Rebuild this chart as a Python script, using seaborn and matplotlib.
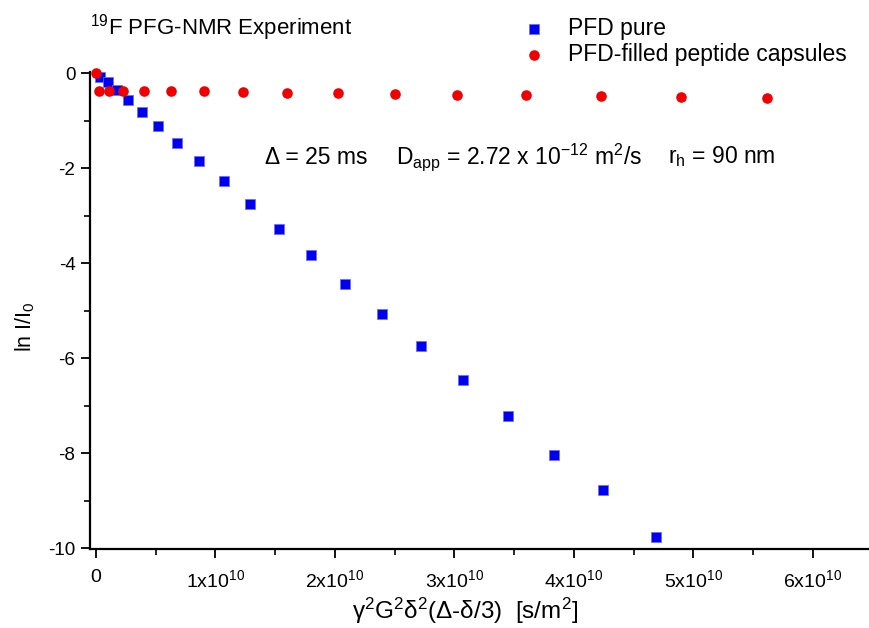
import matplotlib
matplotlib.use("Agg")
import matplotlib.pyplot as plt
import seaborn as sns
import pandas as pd
from matplotlib.ticker import MultipleLocator, FuncFormatter

# values (x in units of 1e10 s/m^2)
pure_x = [0.033, 0.098, 0.172, 0.270, 0.387, 0.523, 0.682, 0.866, 1.069, 1.289,
          1.531, 1.797, 2.086, 2.393, 2.720, 3.074, 3.445, 3.833, 4.245, 4.684]
pure_y = [-0.08, -0.19, -0.36, -0.57, -0.82, -1.12, -1.46, -1.84, -2.27, -2.75,
          -3.27, -3.83, -4.43, -5.07, -5.75, -6.46, -7.22, -8.04, -8.77, -9.76]

caps_x = [0.0, 0.028, 0.106, 0.228, 0.402, 0.630, 0.906, 1.228, 1.601, 2.025,
          2.502, 3.023, 3.598, 4.223, 4.895, 5.618]
caps_y = [0.0, -0.37, -0.37, -0.37, -0.37, -0.37, -0.385, -0.40, -0.41, -0.41,
          -0.435, -0.45, -0.46, -0.48, -0.50, -0.52]

series_names = ["PFD pure", "PFD-filled peptide capsules"]

sns.set_theme(style="ticks")
plt.rcParams['font.family'] = ['Liberation Sans', 'DejaVu Sans']
plt.rcParams['mathtext.fontset'] = 'custom'
plt.rcParams['mathtext.rm'] = 'Liberation Sans'
plt.rcParams['mathtext.it'] = 'Liberation Sans:italic'
plt.rcParams['mathtext.default'] = 'regular'
plt.rcParams['text.color'] = 'black'
plt.rcParams['axes.labelcolor'] = 'black'

df_pure = pd.DataFrame({"x": [v * 1e10 for v in pure_x], "y": pure_y})
df_caps = pd.DataFrame({"x": [v * 1e10 for v in caps_x], "y": caps_y})

fig = plt.figure(figsize=(8.69, 6.28), dpi=100)
ax = fig.add_axes([0.1036, 0.1253, 0.8964, 0.7605])

sns.scatterplot(data=df_pure, x="x", y="y", ax=ax, marker="s", s=48,
                color="#0000f0", edgecolor="#6a6aff", linewidth=0.5,
                label=series_names[0], clip_on=False, zorder=3)
sns.scatterplot(data=df_caps, x="x", y="y", ax=ax, marker="o", s=58,
                color="#f00000", edgecolor="#f00000", linewidth=0,
                label=series_names[1], clip_on=False, zorder=4)

ax.set_xlim(-0.05e10, 6.47e10)
ax.set_ylim(-10.02, 0.03)

ax.xaxis.set_major_locator(MultipleLocator(1e10))
ax.xaxis.set_minor_locator(MultipleLocator(0.5e10))
ax.yaxis.set_major_locator(MultipleLocator(2))
ax.yaxis.set_minor_locator(MultipleLocator(1))


def xfmt(v, pos):
    n = int(round(v / 1e10))
    if n == 0:
        return "0"
    return "%dx10$^{10}$" % n


ax.xaxis.set_major_formatter(FuncFormatter(xfmt))
ax.yaxis.set_major_formatter(FuncFormatter(lambda v, p: "%d" % v if v != 0 else "0"))

for side in ["top", "right"]:
    ax.spines[side].set_visible(False)
for side in ["left", "bottom"]:
    ax.spines[side].set_linewidth(1.6)
    ax.spines[side].set_color("black")

ax.tick_params(which="major", direction="out", length=6.5, width=1.3,
               labelsize=13.5, colors="black", pad=4)
ax.tick_params(which="minor", direction="out", length=4, width=1.2, colors="black")
ax.tick_params(axis="x", labelsize=14, pad=8)

ax.set_xlabel("γ$^2$G$^2$δ$^2$(Δ-δ/3)  [s/m$^2$]", fontsize=17.5, va="center")
ax.set_ylabel("ln I/I$_0$", fontsize=15.5, va="center")
ax.xaxis.set_label_coords((465 - 90) / 779, (549.3 - 611) / 477.6)
ax.yaxis.set_label_coords((25 - 90) / 779, (549.3 - 327) / 477.6)

fig.text(90 / 869, 1 - 28 / 628, "$^{19}$F PFG-NMR Experiment", fontsize=16,
         ha="left", va="center")

ann_y = 1 - 157 / 628
fig.text(265 / 869, ann_y, "Δ = 25 ms", fontsize=16.5, ha="left", va="center")
fig.text(396 / 869, ann_y, "D$_{app}$ = 2.72 x 10$^{-12}$ m$^2$/s", fontsize=16.5,
         ha="left", va="center")
fig.text(668 / 869, ann_y, "r$_h$ = 90 nm", fontsize=16.5, ha="left", va="center")

ax.legend(loc="upper left", bbox_to_anchor=(523 / 869, 1 - 17 / 628),
          bbox_transform=fig.transFigure, frameon=False, fontsize=16.5,
          borderpad=0, borderaxespad=0, handlelength=1.0, handletextpad=0.95,
          labelspacing=0.12, markerscale=1.0)

fig.savefig("out.png", dpi=100)
